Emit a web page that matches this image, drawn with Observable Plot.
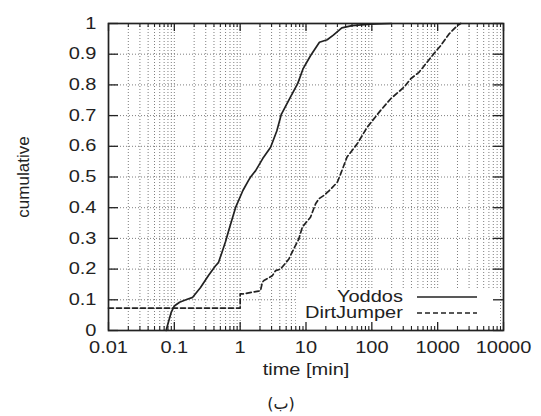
<!DOCTYPE html>
<html><head><meta charset="utf-8">
<script src="https://cdn.jsdelivr.net/npm/d3@7"></script>
<script src="https://cdn.jsdelivr.net/npm/@observablehq/plot@0.6"></script>
<style>body{margin:0;background:#fff;} svg{display:block;}</style>
</head><body><div id="chart"></div>
<script>
// ---- data ----
const seriesNames = ["Yoddos", "DirtJumper"];
const yoddosTime = [0.075, 0.082, 0.09, 0.1, 0.12, 0.15, 0.19, 0.25, 0.33, 0.42, 0.47, 0.53, 0.6, 0.67, 0.85, 1.1, 1.34, 1.44, 1.71, 2.2, 2.9, 3.6, 4.2, 5.8, 7.5, 9.0, 11.7, 16, 21, 26, 35, 50, 96, 200];
const yoddosCum  = [0, 0.03, 0.06, 0.08, 0.092, 0.1, 0.108, 0.14, 0.179, 0.21, 0.222, 0.255, 0.29, 0.326, 0.40, 0.456, 0.489, 0.5, 0.52, 0.56, 0.597, 0.65, 0.703, 0.76, 0.805, 0.852, 0.895, 0.939, 0.947, 0.962, 0.986, 0.993, 0.998, 1.0];
const dirtTime = [0.01, 1.0, 1.0, 1.08, 1.9, 2.04, 2.17, 2.3, 3.07, 3.45, 4.1, 5.5, 5.8, 7.8, 8.8, 11.7, 14, 15.7, 18.7, 23.7, 29.9, 33.6, 42, 60, 85, 136, 194, 310, 390, 520, 870, 1110, 1490, 1990, 2240];
const dirtCum  = [0.073, 0.073, 0.119, 0.119, 0.128, 0.13, 0.157, 0.163, 0.178, 0.195, 0.2, 0.233, 0.244, 0.299, 0.337, 0.369, 0.413, 0.429, 0.44, 0.46, 0.483, 0.51, 0.565, 0.608, 0.662, 0.717, 0.755, 0.793, 0.82, 0.841, 0.901, 0.928, 0.966, 0.993, 1.0];
const xTickValues = [0.01, 0.1, 1, 10, 100, 1000, 10000];
const xTickLabels = ["0.01", "0.1", "1", "10", "100", "1000", "10000"];
const yTickValues = [0, 0.1, 0.2, 0.3, 0.4, 0.5, 0.6, 0.7, 0.8, 0.9, 1];
const yTickLabels = ["0", "0.1", "0.2", "0.3", "0.4", "0.5", "0.6", "0.7", "0.8", "0.9", "1"];
const xLabel = "time [min]";
const yLabel = "cumulative";
const captionText = "(ب)";

// ---- layout ----
const width = 541, height = 416, mL = 108, mR = 38, mT = 23, mB = 86;
const xDomain = [0.01, 10000], yDomain = [0, 1];
const plotW = width - mL - mR, plotH = height - mT - mB;
const pxPerDecade = plotW / Math.log10(xDomain[1] / xDomain[0]);
const xFactor = px => Math.pow(10, px / pxPerDecade);
const yIn = px => px / plotH * (yDomain[1] - yDomain[0]);

const allLogTicks = d3.scaleLog().domain(xDomain).ticks();
const isMajor = v => xTickValues.some(t => Math.abs(t - v) / t < 1e-9);
const xMinor = allLogTicks.filter(v => !isMajor(v));
const xGrid = allLogTicks.filter(v => v > xDomain[0] * 1.0001 && v < xDomain[1] * 0.9999);

const yoddos = yoddosTime.map((t, i) => ({time: t, cum: yoddosCum[i]}));
const dirt = dirtTime.map((t, i) => ({time: t, cum: dirtCum[i]}));

const ink = "#222";
const gridStyle = {stroke: "#707070", strokeDasharray: "1,2", strokeWidth: 0.9};

const svg = Plot.plot({
  width, height,
  marginLeft: mL, marginRight: mR, marginTop: mT, marginBottom: mB,
  style: {fontFamily: "'Liberation Sans', Arial, sans-serif", fontSize: "16px", background: "white", color: ink},
  x: {type: "log", domain: xDomain},
  y: {domain: yDomain},
  marks: [
    Plot.ruleX(xGrid, gridStyle),
    Plot.ruleY(yTickValues.slice(1, -1), gridStyle),
    Plot.line(yoddos, {x: "time", y: "cum", stroke: ink, strokeWidth: 1.7}),
    Plot.line(dirt, {x: "time", y: "cum", stroke: ink, strokeWidth: 1.7, strokeDasharray: "5,3"}),
    // inward ticks
    Plot.ruleX(xTickValues, {y1: yDomain[0], y2: yDomain[0] + yIn(8), stroke: ink, strokeWidth: 1.3}),
    Plot.ruleX(xTickValues, {y1: yDomain[1] - yIn(8), y2: yDomain[1], stroke: ink, strokeWidth: 1.3}),
    Plot.ruleX(xMinor, {y1: yDomain[0], y2: yDomain[0] + yIn(4), stroke: ink, strokeWidth: 1.1}),
    Plot.ruleX(xMinor, {y1: yDomain[1] - yIn(4), y2: yDomain[1], stroke: ink, strokeWidth: 1.1}),
    Plot.ruleY(yTickValues, {x1: xDomain[0], x2: xDomain[0] * xFactor(10), stroke: ink, strokeWidth: 1.3}),
    Plot.ruleY(yTickValues, {x1: xDomain[1] / xFactor(10), x2: xDomain[1], stroke: ink, strokeWidth: 1.3}),
    Plot.frame({stroke: ink, strokeWidth: 1.7}),
    Plot.axisX({ticks: xTickValues, tickFormat: d => xTickLabels[xTickValues.indexOf(d)], tickSize: 0, tickPadding: 11, fontSize: 16, fill: ink, label: null}),
    Plot.axisY({ticks: yTickValues, tickFormat: d => yTickLabels[yTickValues.indexOf(d)], tickSize: 0, tickPadding: 12, fontSize: 16, fill: ink, label: null}),
    Plot.text([xLabel], {frameAnchor: "bottom", textAnchor: "middle", lineAnchor: "bottom", dy: 44, fontSize: 16, fill: ink}),
    Plot.text([yLabel], {frameAnchor: "left", textAnchor: "middle", lineAnchor: "middle", rotate: -90, dx: -85, fontSize: 17, fill: ink}),
    Plot.text([captionText], {frameAnchor: "bottom", textAnchor: "middle", lineAnchor: "bottom", dx: -25, dy: 78, fontSize: 16, fill: ink, fontFamily: "'DejaVu Sans', sans-serif"})
  ]
});

// ---- legend (in frame pixel space) ----
const ns = "http://www.w3.org/2000/svg";
const fx1 = width - mR, fy1 = height - mB;
const firstLine = svg.querySelector('g[aria-label="line"]');
const box = document.createElementNS(ns, "rect");
box.setAttribute("x", fx1 - 207); box.setAttribute("y", fy1 - 40);
box.setAttribute("width", 204); box.setAttribute("height", 38);
box.setAttribute("fill", "white");
if (firstLine) svg.insertBefore(box, firstLine); else svg.appendChild(box);

const lg = d3.select(svg).append("g").attr("font-size", 16).attr("fill", ink);
seriesNames.forEach((name, i) => {
  const cy = fy1 - 33 + i * 16;
  lg.append("text").attr("text-anchor", "end").attr("x", fx1 - 100).attr("y", cy + 5.5).text(name);
  lg.append("line").attr("x1", fx1 - 86).attr("x2", fx1 - 26).attr("y1", cy).attr("y2", cy)
    .attr("stroke", ink).attr("stroke-width", 1.5).attr("stroke-dasharray", i === 1 ? "5,3" : null);
});

document.getElementById("chart").appendChild(svg);

// widen the Helvetica-like text horizontally around its anchor, as in the reference
svg.querySelectorAll("text").forEach(t => {
  const txt = t.textContent;
  if (txt === yLabel || txt === captionText) return;
  const tr = t.getAttribute("transform") || "";
  if (tr.includes("rotate")) return;
  const bb = t.getBBox();
  const anchor = getComputedStyle(t).textAnchor;
  const ax = anchor === "end" ? bb.x + bb.width : anchor === "middle" ? bb.x + bb.width / 2 : bb.x;
  t.setAttribute("transform", `${tr} translate(${ax},0) scale(1.25,1) translate(${-ax},0)`);
});
</script>
</body></html>
